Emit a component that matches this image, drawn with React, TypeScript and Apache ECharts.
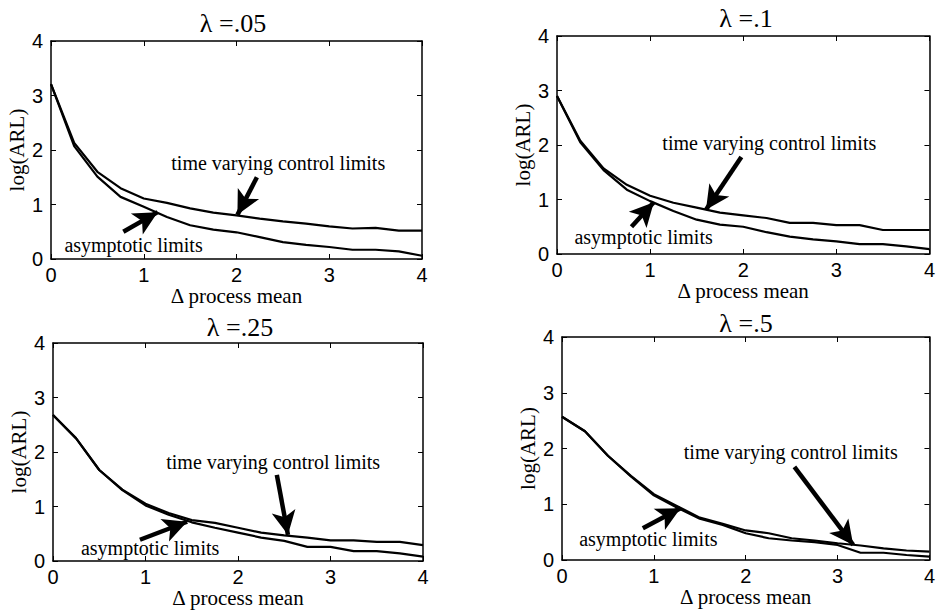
import React, { useEffect, useRef } from "react";
import * as echarts from "echarts";

// Δ process mean (x values)
const deltaMean = [0, 0.25, 0.5, 0.75, 1, 1.25, 1.5, 1.75, 2, 2.25, 2.5, 2.75, 3, 3.25, 3.5, 3.75, 4];

// log(ARL) – time varying control limits / asymptotic limits
const tv05 = [3.21, 2.13, 1.6, 1.3, 1.11, 1.03, 0.93, 0.85, 0.8, 0.74, 0.69, 0.65, 0.6, 0.56, 0.57, 0.52, 0.52];
const asy05 = [3.21, 2.07, 1.51, 1.14, 0.96, 0.77, 0.62, 0.54, 0.49, 0.4, 0.31, 0.26, 0.22, 0.17, 0.17, 0.14, 0.06];

const tv10 = [2.9, 2.08, 1.57, 1.27, 1.07, 0.94, 0.85, 0.76, 0.71, 0.66, 0.57, 0.57, 0.53, 0.53, 0.44, 0.44, 0.44];
const asy10 = [2.9, 2.05, 1.54, 1.18, 0.97, 0.79, 0.63, 0.54, 0.5, 0.4, 0.32, 0.27, 0.23, 0.18, 0.18, 0.14, 0.09];

const tv25 = [2.68, 2.25, 1.67, 1.31, 1.05, 0.88, 0.75, 0.7, 0.61, 0.52, 0.47, 0.43, 0.38, 0.38, 0.35, 0.35, 0.29];
const asy25 = [2.68, 2.25, 1.67, 1.3, 1.02, 0.85, 0.71, 0.61, 0.52, 0.43, 0.37, 0.26, 0.26, 0.18, 0.18, 0.14, 0.08];

const tv50 = [2.57, 2.31, 1.87, 1.51, 1.18, 0.97, 0.76, 0.65, 0.53, 0.48, 0.39, 0.35, 0.3, 0.26, 0.21, 0.17, 0.15];
const asy50 = [2.57, 2.31, 1.87, 1.5, 1.16, 0.94, 0.74, 0.63, 0.48, 0.39, 0.35, 0.32, 0.27, 0.13, 0.13, 0.09, 0.06];

const titles = ["λ =.05", "λ =.1", "λ =.25", "λ =.5"];
const xTickLabels = ["0", "1", "2", "3", "4"];
const yTickLabels = ["0", "1", "2", "3", "4"];
const tvLabel = "time varying control limits";
const asyLabel = "asymptotic limits";
const xName = "Δ process mean";
const yName = "log(ARL)";

const SERIF = "'Liberation Serif', 'Times New Roman', serif";
const SANS = "'Liberation Sans', Arial, sans-serif";

const panels = [
  {
    title: titles[0], tv: tv05, asy: asy05,
    grid: { left: 51, top: 41, width: 371, height: 218 },
    titlePos: [233, 23], yGap: 20, xGap: 22,
    tvText: [2.45, 1.76], tvArrow: [[2.22, 1.5], [2.01, 0.81]],
    asyText: [0.89, 0.26], asyArrow: [[0.78, 0.5], [1.15, 0.86]],
  },
  {
    title: titles[1], tv: tv10, asy: asy10,
    grid: { left: 557, top: 36, width: 374, height: 218 },
    titlePos: [746, 18], yGap: 15, xGap: 22,
    tvText: [2.28, 2.03], tvArrow: [[1.98, 1.78], [1.6, 0.81]],
    asyText: [0.93, 0.32], asyArrow: [[0.8, 0.5], [1.04, 0.95]],
  },
  {
    title: titles[2], tv: tv25, asy: asy25,
    grid: { left: 53, top: 343, width: 370, height: 218 },
    titlePos: [240, 327], yGap: 20, xGap: 26,
    tvText: [2.38, 1.82], tvArrow: [[2.42, 1.58], [2.54, 0.48]],
    asyText: [1.05, 0.24], asyArrow: [[0.94, 0.39], [1.45, 0.72]],
  },
  {
    title: titles[3], tv: tv50, asy: asy50,
    grid: { left: 562, top: 337, width: 372, height: 223 },
    titlePos: [746, 323], yGap: 20, xGap: 23,
    tvText: [2.49, 1.94], tvArrow: [[2.53, 1.67], [3.17, 0.27]],
    asyText: [0.94, 0.38], asyArrow: [[0.88, 0.57], [1.29, 0.93]],
  },
];

function buildOption() {
  const grid: any[] = [];
  const xAxis: any[] = [];
  const yAxis: any[] = [];
  const series: any[] = [];
  const graphic: any[] = [];
  const frameLine = { show: true, onZero: false, lineStyle: { color: "#000", width: 1.5 } };
  const tick = { show: true, inside: true, length: 5, lineStyle: { color: "#000", width: 1 } };

  panels.forEach((p, i) => {
    grid.push({ ...p.grid, containLabel: false });
    xAxis.push({
      type: "value", gridIndex: i, min: 0, max: 4, interval: 1, position: "bottom",
      axisLine: frameLine, axisTick: tick, splitLine: { show: false },
      axisLabel: {
        color: "#000", fontFamily: SANS, fontSize: 20, margin: 6,
        formatter: (v: number) => xTickLabels[Math.round(v)] ?? "",
      },
      name: xName, nameLocation: "middle", nameGap: p.xGap,
      nameTextStyle: { color: "#000", fontFamily: SERIF, fontSize: 21 },
    });
    xAxis.push({
      type: "value", gridIndex: i, min: 0, max: 4, interval: 1, position: "top",
      axisLine: frameLine, axisTick: tick, splitLine: { show: false }, axisLabel: { show: false },
    });
    yAxis.push({
      type: "value", gridIndex: i, min: 0, max: 4, interval: 1, position: "left",
      axisLine: frameLine, axisTick: tick, splitLine: { show: false },
      axisLabel: {
        color: "#000", fontFamily: SANS, fontSize: 20, margin: 8,
        formatter: (v: number) => yTickLabels[Math.round(v)] ?? "",
      },
      name: yName, nameLocation: "middle", nameGap: p.yGap, nameRotate: 90,
      nameTextStyle: { color: "#000", fontFamily: SERIF, fontSize: 21 },
    });
    yAxis.push({
      type: "value", gridIndex: i, min: 0, max: 4, interval: 1, position: "right",
      axisLine: frameLine, axisTick: tick, splitLine: { show: false }, axisLabel: { show: false },
    });

    const arrowMarkLine = (arrow: number[][]) => ({
      silent: true,
      symbol: ["none", "arrow"],
      symbolSize: [18, 24],
      lineStyle: { color: "#000", width: 4.5, type: "solid" },
      itemStyle: { color: "#000" },
      label: { show: false },
      emphasis: { disabled: true },
      data: [[{ coord: arrow[0] }, { coord: arrow[1] }]],
    });
    const textMarkPoint = (text: string, at: number[]) => ({
      silent: true,
      symbol: "rect",
      symbolSize: 1,
      itemStyle: { color: "rgba(0,0,0,0)" },
      label: {
        show: true, position: "inside", formatter: text,
        color: "#000", fontFamily: SERIF, fontSize: 20,
      },
      data: [{ coord: at }],
    });

    series.push({
      type: "line", name: tvLabel, xAxisIndex: 2 * i, yAxisIndex: 2 * i,
      data: deltaMean.map((x, k) => [x, p.tv[k]]),
      symbol: "none", showSymbol: false, smooth: false,
      lineStyle: { color: "#000", width: 2.2 }, itemStyle: { color: "#000" },
      markLine: arrowMarkLine(p.tvArrow),
      markPoint: textMarkPoint(tvLabel, p.tvText),
    });
    series.push({
      type: "line", name: asyLabel, xAxisIndex: 2 * i, yAxisIndex: 2 * i,
      data: deltaMean.map((x, k) => [x, p.asy[k]]),
      symbol: "none", showSymbol: false, smooth: false,
      lineStyle: { color: "#000", width: 2.2 }, itemStyle: { color: "#000" },
      markLine: arrowMarkLine(p.asyArrow),
      markPoint: textMarkPoint(asyLabel, p.asyText),
    });

    graphic.push({
      type: "text", x: p.titlePos[0], y: p.titlePos[1],
      style: {
        text: p.title, fill: "#000", font: `26px ${SERIF}`,
        textAlign: "center", textVerticalAlign: "middle",
      },
    });
  });

  return {
    animation: false,
    backgroundColor: "#fff",
    grid, xAxis, yAxis, series, graphic,
  };
}

export default function App() {
  const ref = useRef<HTMLDivElement>(null);
  useEffect(() => {
    if (!ref.current) return;
    const chart = echarts.init(ref.current, null, { renderer: "svg" });
    chart.setOption(buildOption() as any);
    return () => chart.dispose();
  }, []);
  return (
    <div
      ref={ref}
      style={{ position: "fixed", left: 0, top: 0, width: 938, height: 611, background: "#fff" }}
    />
  );
}
